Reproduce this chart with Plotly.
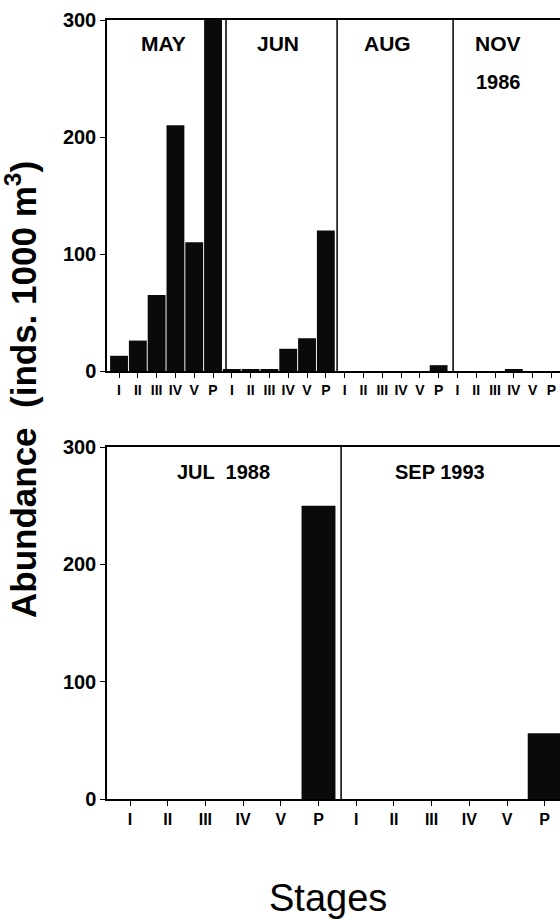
import plotly.graph_objects as go

stages = ["I", "II", "III", "IV", "V", "P"]

top_panels = ["MAY", "JUN", "AUG", "NOV"]
may_1986 = [13, 26, 65, 210, 110, 300]
jun_1986 = [1, 1, 1, 19, 28, 120]
aug_1986 = [0, 0, 0, 0, 0, 5]
nov_1986 = [0, 0, 0, 1, 0, 0]
top_values = [may_1986, jun_1986, aug_1986, nov_1986]

bottom_panels = ["JUL  1988", "SEP 1993"]
jul_1988 = [0, 0, 0, 0, 0, 250]
sep_1993 = [0, 0, 0, 0, 0, 56]
bottom_values = [jul_1988, sep_1993]

y_ticks = [0, 100, 200, 300]

W, H = 560, 920
L = 107
SPAN = 6
FONT = "Liberation Sans, Arial, sans-serif"
NARROW = "Liberation Sans Narrow, Liberation Sans, Arial, sans-serif"

fig = go.Figure()


def add_row(values, xaxis, yaxis, width):
    xs, ys, texts = [], [], []
    for p, vals in enumerate(values):
        for s, v in enumerate(vals):
            xs.append(p * SPAN + s)
            ys.append(v)
            texts.append(stages[s])
    fig.add_trace(go.Bar(x=xs, y=ys, marker=dict(color="#0a0a0a", line=dict(width=0)),
                         xaxis=xaxis, yaxis=yaxis, showlegend=False, width=width, hoverinfo="skip"))
    return xs, texts


xs_t, tx_t = add_row(top_values, "x", "y", 0.95)
xs_b, tx_b = add_row(bottom_values, "x2", "y2", 0.9)

plot_w = W - L
ppu_t, off_t = 18.8, 0.64
ppu_b, off_b = 37.7, 0.61
rng_t = [-off_t, -off_t + plot_w / ppu_t]
rng_b = [-off_b, -off_b + plot_w / ppu_b]


def ydom(top_px, bot_px):
    return [1 - bot_px / H, 1 - top_px / H]


axis_common = dict(showline=True, linecolor="black", linewidth=1.5, showgrid=False, zeroline=False,
                   ticks="outside", ticklen=5, tickcolor="black", tickwidth=1.2, automargin=False)

fig.update_layout(
    width=W, height=H,
    margin=dict(l=L, r=0, t=0, b=0, autoexpand=False),
    plot_bgcolor="white", paper_bgcolor="white",
    xaxis=dict(domain=[0, 1], range=rng_t, tickvals=xs_t, ticktext=tx_t, mirror=True, anchor="y",
               tickfont=dict(family=NARROW, size=14, color="black", weight="bold"), **axis_common),
    yaxis=dict(domain=ydom(20, 371), range=[0, 300], tickvals=y_ticks, anchor="x",
               tickfont=dict(family=FONT, size=20, color="black", weight="bold"), **axis_common),
    xaxis2=dict(domain=[0, 1], range=rng_b, tickvals=xs_b, ticktext=tx_b, mirror=True, anchor="y2",
                tickfont=dict(family=NARROW, size=16, color="black", weight="bold"), **axis_common),
    yaxis2=dict(domain=ydom(447, 799), range=[0, 300], tickvals=y_ticks, anchor="x2",
                tickfont=dict(family=FONT, size=20, color="black", weight="bold"), **axis_common),
)

shapes = []
annos = []
top_div_off = [0, -0.31, -0.4, -0.23]
for p in range(1, len(top_panels)):
    xd = p * SPAN + top_div_off[p]
    shapes.append(dict(type="line", xref="x", yref="y", x0=xd, x1=xd, y0=0, y1=300,
                       line=dict(color="black", width=1.5)))
top_lab_off = [2.34, 2.46, 2.26, 2.16]
for p, name in enumerate(top_panels):
    annos.append(dict(x=p * SPAN + top_lab_off[p], y=279.5, xref="x", yref="y", text="<b>" + name + "</b>",
                      showarrow=False, font=dict(family=FONT, size=21, color="black")))
annos.append(dict(x=3 * SPAN + top_lab_off[3], y=247, xref="x", yref="y", text="<b>1986</b>", showarrow=False,
                  font=dict(family=FONT, size=20, color="black")))

for p in range(1, len(bottom_panels)):
    xd = p * SPAN - 0.4
    shapes.append(dict(type="line", xref="x2", yref="y2", x0=xd, x1=xd, y0=0, y1=300,
                       line=dict(color="black", width=1.5)))
bot_lab_off = [2.47, 2.22]
for p, name in enumerate(bottom_panels):
    annos.append(dict(x=p * SPAN + bot_lab_off[p], y=278.6, xref="x2", yref="y2", text="<b>" + name + "</b>",
                      showarrow=False, font=dict(family=FONT, size=20, color="black")))

annos.append(dict(x=(-3 - L) / plot_w, y=1 - 390 / H, xref="paper", yref="paper",
                  text="<b>Abundance  (inds. 1000 m<sup>3</sup>)</b>", textangle=-90, showarrow=False,
                  font=dict(family=FONT, size=35, color="black")))
annos.append(dict(x=(328 - L) / plot_w, y=1 - 921 / H, xref="paper", yref="paper",
                  text="Stages", showarrow=False, font=dict(family=FONT, size=38, color="black")))

fig.update_layout(shapes=shapes, annotations=annos)
fig.write_html("out.html", config={"displayModeBar": False},
               post_script="document.body.style.margin='0px';document.body.style.overflow='hidden';")
